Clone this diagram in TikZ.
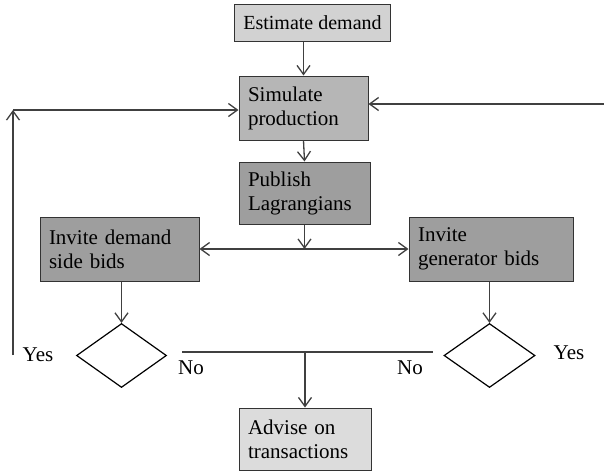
\documentclass[tikz,border=0pt]{standalone}
\usepackage{fontspec}
\setmainfont{Liberation Serif}
\usetikzlibrary{arrows.meta,shapes.geometric}
\definecolor{lineg}{HTML}{404040}
\definecolor{fillA}{HTML}{D2D2D2}
\definecolor{fillB}{HTML}{B6B6B6}
\definecolor{fillC}{HTML}{9E9E9E}
\definecolor{fillD}{HTML}{DCDCDC}
\begin{document}
\begin{tikzpicture}[x=1pt,y=1pt,
  boxbase/.style={draw=black!80,line width=1pt,rectangle,inner xsep=9pt,inner ysep=0pt,
    font=\fontsize{21}{24}\selectfont},
  box/.style={boxbase,align=left},
  dia/.style={draw=black,line width=1.2pt,diamond,inner sep=0pt,minimum width=90pt,minimum height=64pt},
  arr/.style={draw=lineg,line width=1.3pt,-{Straight Barb[length=9pt,width=13pt]}},
  arrb/.style={draw=lineg,line width=1.3pt,{Straight Barb[length=9pt,width=13pt]}-{Straight Barb[length=9pt,width=13pt]}},
  ln/.style={draw=lineg,line width=1.3pt},
  lab/.style={font=\fontsize{21}{24}\selectfont,inner sep=0pt}]
\useasboundingbox (0,0) rectangle (604,-472);
\node[boxbase,fill=fillA,minimum width=153pt,minimum height=37pt,font=\fontsize{20}{24}\selectfont] (est) at (312.5,-22.5) {Estimate demand};
\node[box,fill=fillB,minimum width=129pt,minimum height=64pt,text width=111pt] (sim) at (303.5,-108) {Simulate\\production};
\node[box,fill=fillC,minimum width=131pt,minimum height=62pt,text width=113pt] (pub) at (304.5,-193) {Publish\\Lagrangians};
\node[box,fill=fillC,minimum width=159pt,minimum height=64pt,text width=141pt] (dem) at (119.5,-249) {Invite demand\\side bids};
\node[box,fill=fillC,minimum width=164pt,minimum height=64pt,text width=146pt] (gen) at (491,-249) {Invite\\generator bids};
\node[box,fill=fillD,minimum width=132pt,minimum height=62pt,text width=114pt] (adv) at (305,-439) {Advise on\\transactions};
\node[dia] (d1) at (121.5,-355.5) {};
\node[dia,minimum width=91pt] (d2) at (489.5,-355.5) {};
\node[lab] (yes1) at (38,-355) {Yes};
\node[lab] (no1) at (191,-368) {No};
\node[lab] (no2) at (410,-368) {No};
\node[lab] (yes2) at (569,-353) {Yes};
\coordinate (lb) at (13,-355);
\coordinate (lt) at (13,-110);
\coordinate (lh) at (13,-110);
\coordinate (rh) at (604,-104);
\coordinate (bl) at (182,-352);
\coordinate (br) at (433,-352);
\draw[arr] (sim.north |- est.south) -- (sim.north);
\draw[arr] (sim.south) -- (pub.north);
\draw[arr] (pub.south) -- (pub.south |- dem.east);
\draw[arrb] (dem.east) -- (gen.west);
\draw[arr] (d1.north |- dem.south) -- (d1.north);
\draw[arr] (d2.north |- gen.south) -- (d2.north);
\draw[arr] (lb) -- (lt);
\draw[arr] (lh) -- (lh -| sim.west);
\draw[arr] (rh) -- (rh -| sim.east);
\draw[ln] (bl) -- (br);
\draw[arr] (bl -| adv.north) -- (adv.north);
\end{tikzpicture}
\end{document}
